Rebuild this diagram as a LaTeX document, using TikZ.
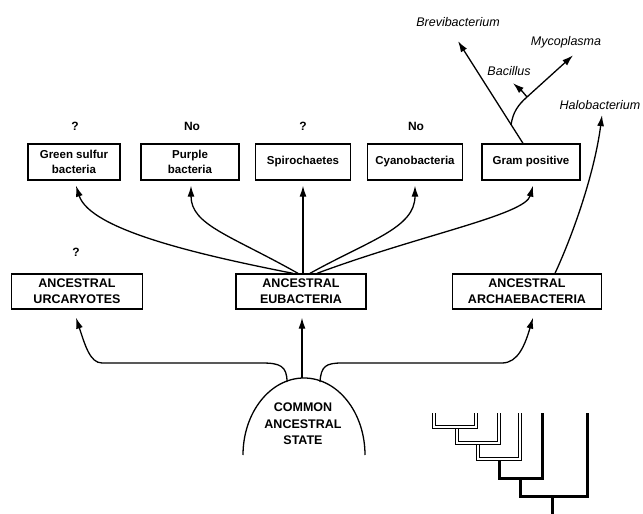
\documentclass[tikz,border=0pt]{standalone}
\usepackage{fontspec}
\setmainfont{Liberation Sans}
\usetikzlibrary{arrows.meta}
\begin{document}
\begin{tikzpicture}[x=1pt,y=1pt,
  box/.style={draw, line width=1.3pt, minimum height=36pt, align=center, inner sep=0pt,
    font=\bfseries\fontsize{11.5}{15}\selectfont},
  capbox/.style={draw, line width=1.3pt, minimum height=35pt, align=center, inner sep=0pt,
    font=\bfseries\fontsize{12.5}{16}\selectfont},
  lab/.style={font=\bfseries\fontsize{12}{14}\selectfont},
  ital/.style={font=\itshape\fontsize{12.5}{14}\selectfont},
  arr/.style={line width=1.3pt, -{Latex[length=11pt,width=7pt]}},
  conn/.style={line width=1.3pt},
  hollow/.style={draw=black, line width=1pt, double=white, double distance=2.2pt},
  thick line/.style={line width=3pt}]
\useasboundingbox (0,0) rectangle (643,-514);

% top boxes
\node[box, minimum width=92pt]  (green) at (74,-162)  {Green sulfur\\bacteria};
\node[box, minimum width=98pt]  (purple) at (190,-162) {Purple\\bacteria};
\node[box, minimum width=95pt]  (spiro) at (303,-162)  {Spirochaetes};
\node[box, minimum width=95pt]  (cyano) at (415,-162)  {Cyanobacteria};
\node[box, minimum width=98pt]  (gram) at (531,-162)   {Gram positive};

% labels above top boxes
\node[lab] (q1) at (75,-126) {?};
\node[lab] (n1) at (192,-126) {No};
\node[lab] (q2) at (303,-126) {?};
\node[lab] (n2) at (416,-126) {No};
\node[lab] (q3) at (76,-252) {?};

% lower boxes
\node[capbox, minimum width=131pt] (urc) at (77,-291.5)  {ANCESTRAL\\URCARYOTES};
\node[capbox, minimum width=130pt] (eub) at (301,-291.5) {ANCESTRAL\\EUBACTERIA};
\node[capbox, minimum width=149pt] (arc) at (527,-291.5) {ANCESTRAL\\ARCHAEBACTERIA};

% dome
\draw[conn] (243,-455) arc[start angle=180, end angle=0, x radius=61, y radius=77];
\node[align=center, font=\bfseries\fontsize{12.5}{16.5}\selectfont] (common) at (303,-424)
  {COMMON\\ANCESTRAL\\STATE};
\coordinate (dl) at (287,-382);
\coordinate (dm) at (302,-378);
\coordinate (dr) at (320,-382);

% arrows from common ancestral state
\draw[arr] (dl) .. controls (287,-366) and (280,-363) .. (262,-363) -- (102,-363)
   .. controls (90,-363) and (85,-345) .. ([xshift=-1pt,yshift=-8pt]urc.south);
\draw[arr] (dm) -- ([xshift=1pt,yshift=-8pt]eub.south);
\draw[arr] (dr) .. controls (321,-366) and (326,-363) .. (342,-363) -- (502,-363)
   .. controls (518,-363) and (525,-345) .. ([xshift=6pt,yshift=-8pt]arc.south);

% arrows from ancestral eubacteria
\draw[arr] ([xshift=-8pt]eub.north) .. controls (200,-255) and (90,-230) .. ([xshift=2pt,yshift=-5pt]green.south);
\draw[arr] ([xshift=-3pt]eub.north) .. controls (230,-235) and (191,-225) .. ([xshift=1pt,yshift=-5pt]purple.south);
\draw[arr] ([xshift=2pt]eub.north) -- ([yshift=-5pt]spiro.south);
\draw[arr] ([xshift=9pt]eub.north) .. controls (370,-240) and (415,-228) .. ([yshift=-5pt]cyano.south);
\draw[arr] ([xshift=16pt]eub.north) .. controls (420,-235) and (525,-215) .. ([xshift=2pt,yshift=-5pt]gram.south);

% gram positive subtree
\node[ital] (brev) at (458,-22) {Brevibacterium};
\node[ital] (myco) at (566,-42) {Mycoplasma};
\node[ital] (baci) at (509,-71) {Bacillus};
\node[ital] (halo) at (600,-105) {Halobacterium};
\coordinate (split) at (511,-125);
\coordinate (bend) at (527,-97);
\draw[arr] ([xshift=-8pt]gram.north) -- ([yshift=-11pt]brev.south);
\draw[conn] (split) .. controls (513,-112) and (518,-105) .. (bend);
\draw[arr] (bend) -- ([xshift=7pt,yshift=-4pt]myco.south);
\draw[arr] (bend) .. controls (522,-91) .. ([xshift=4pt,yshift=-4pt]baci.south);
\draw[arr] ([xshift=28pt]arc.north) .. controls (575,-230) and (595,-170) .. ([xshift=2pt,yshift=-2pt]halo.south);

% small cladogram
\draw[hollow] (434,-413) |- (476,-427) -- (476,-413);
\draw[hollow] (457,-428.6) |- (499,-443) -- (499,-413);
\draw[hollow] (478,-444.6) |- (520,-459) -- (520,-413);
\draw[thick line] (499,-460.6) |- (542,-478) -- (542,-413);
\draw[thick line] (520,-478) |- (587,-496) -- (587,-413);
\draw[thick line] (552,-496) -- (552,-514);
\end{tikzpicture}
\end{document}
